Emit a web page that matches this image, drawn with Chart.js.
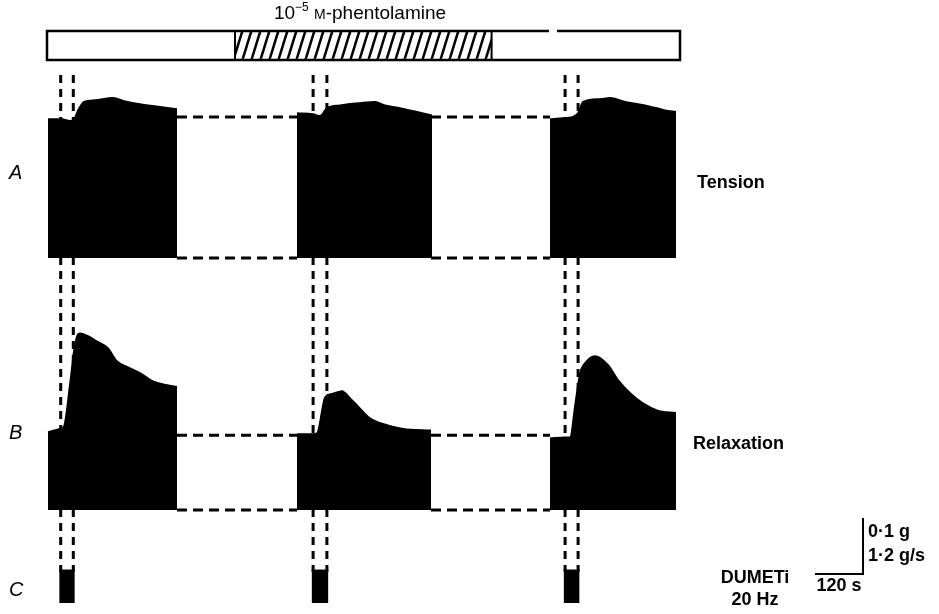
<!DOCTYPE html>
<html>
<head>
<meta charset="utf-8">
<script src="https://cdn.jsdelivr.net/npm/chart.js@4.4.1/dist/chart.umd.min.js"></script>
<style>
    html, body { margin: 0; padding: 0; background: #ffffff; }
    #wrap { width: 939px; height: 614px; }
</style>
</head>
<body>
<div id="wrap"><canvas id="traceChart" width="939" height="614"></canvas></div>
<script>
// ##################### Data (time in s from start of first record) #####################

const blockStart = [0, 622.5, 1255];
const blockEnd = [322.5, 957.5, 1570];

// DUMETi 20 Hz stimulation periods
const stimOn = [28, 659, 1289];
const stimOff = [67, 701, 1329];

// 10^-5 M phentolamine application
const drugOn = 467.5;
const drugOff = 1109;
const barStart = -2.5;
const barEnd = 1580;
const barGap = [1252.5, 1272.5];

// A - Tension, upper envelope (g)
const tensionT1 = [0, 35, 55, 65, 75, 90, 117.5, 162.5, 192.5, 230, 280, 322.5];
const tensionV1 = [0.248, 0.248, 0.245, 0.248, 0.264, 0.279, 0.282, 0.286, 0.280, 0.275, 0.270, 0.266];
const tensionT2 = [622.5, 662.5, 680, 697.5, 730, 780, 817.5, 842.5, 880, 917.5, 960];
const tensionV2 = [0.259, 0.257, 0.254, 0.268, 0.273, 0.277, 0.279, 0.273, 0.268, 0.262, 0.255];
const tensionT3 = [1255, 1287.5, 1310, 1325, 1337.5, 1380, 1405, 1442.5, 1492.5, 1542.5, 1570];
const tensionV3 = [0.248, 0.250, 0.252, 0.259, 0.279, 0.284, 0.286, 0.279, 0.273, 0.264, 0.261];

// B - Relaxation rate, upper envelope (g/s)
const relaxT1 = [0, 35, 40, 55, 65, 72.5, 80, 100, 117.5, 150, 172.5, 200, 230, 262.5, 297.5, 322.5];
const relaxV1 = [1.67, 1.76, 1.80, 2.72, 3.43, 3.73, 3.79, 3.73, 3.64, 3.47, 3.19, 3.06, 2.94, 2.76, 2.68, 2.64];
const relaxT2 = [622.5, 662.5, 672.5, 692.5, 710, 735, 755, 772.5, 805, 847.5, 887.5, 957.5];
const relaxV2 = [1.63, 1.63, 1.65, 2.42, 2.49, 2.55, 2.40, 2.25, 1.97, 1.82, 1.74, 1.71];
const relaxT3 = [1255, 1292.5, 1305, 1317.5, 1330, 1342.5, 1367.5, 1400, 1425, 1455, 1487.5, 1522.5, 1570];
const relaxV3 = [1.54, 1.56, 1.56, 2.25, 2.94, 3.15, 3.30, 3.11, 2.79, 2.51, 2.29, 2.14, 2.08];

// dashed reference levels (control baseline and zero)
const tensionRef = [0.252, 0];
const relaxRef = [1.60, 0];

// calibration bars
const calTime = 120;   // s
const calTension = 0.1; // g
const calRelax = 1.2;  // g/s

// ##################### Layout #####################

const W = 939, H = 614;
const X0_PX = 48;          // pixel of t = 0
const PX_PER_S = 0.4;

// each trace gets its own hidden axis: pixel of zero + pixels per unit
function axisRange(zeroPx, pxPerUnit) {
    return { min: -(H - zeroPx) / pxPerUnit, max: zeroPx / pxPerUnit };
}

const rangeA = axisRange(258, 560);
const rangeB = axisRange(510, 560 * calTension / calRelax);
const rangeC = axisRange(603, 33);
const rangeBar = axisRange(60, 29);

function pts(t, v) {
    return t.map((x, i) => ({ x: x, y: v[i] }));
}

// hatch pattern for the drug bar
function hatchPattern() {
    const pc = document.createElement("canvas");
    pc.width = 9;
    pc.height = 29;
    const p = pc.getContext("2d");
    p.strokeStyle = "#000";
    p.lineWidth = 2.5;
    [-9, 0, 9].forEach((o) => {
        p.beginPath();
        p.moveTo(o, 29);
        p.lineTo(o + 9, 0);
        p.stroke();
    });
    return p.createPattern(pc, "repeat");
}

const datasets = [];

function blockSet(data, axis) {
    return {
        data: data,
        yAxisID: axis,
        borderColor: "#000",
        borderWidth: 1.5,
        backgroundColor: "#000",
        fill: { value: 0 },
        cubicInterpolationMode: "monotone",
        pointRadius: 0,
        order: 0,
    };
}

[[tensionT1, tensionV1], [tensionT2, tensionV2], [tensionT3, tensionV3]].forEach((b) => {
    datasets.push(blockSet(pts(b[0], b[1]), "yA"));
});
[[relaxT1, relaxV1], [relaxT2, relaxV2], [relaxT3, relaxV3]].forEach((b) => {
    datasets.push(blockSet(pts(b[0], b[1]), "yB"));
});

// stimulation pulses (C)
stimOn.forEach((on, i) => {
    datasets.push({
        data: [{ x: on, y: 1 }, { x: stimOff[i], y: 1 }],
        yAxisID: "yC",
        borderColor: "#000",
        borderWidth: 1,
        backgroundColor: "#000",
        fill: { value: 0 },
        pointRadius: 0,
        order: 0,
    });
});

// dashed reference lines between records
function refLine(level, axis) {
    const d = [];
    for (let i = 0; i < blockStart.length - 1; i++) {
        d.push({ x: blockEnd[i], y: level });
        d.push({ x: blockStart[i + 1], y: level });
        d.push({ x: blockStart[i + 1], y: null });
    }
    return {
        data: d,
        yAxisID: axis,
        borderColor: "#000",
        borderWidth: 3,
        borderDash: [10, 6],
        fill: false,
        pointRadius: 0,
        spanGaps: false,
        order: 3,
    };
}
tensionRef.forEach((r) => datasets.push(refLine(r, "yA")));
relaxRef.forEach((r) => datasets.push(refLine(r, "yB")));

// drug bar: outline (with the small break in the top edge) + hatched part
datasets.push({
    data: [
        { x: barGap[0], y: 1 }, { x: barStart, y: 1 }, { x: barStart, y: 0 },
        { x: barEnd, y: 0 }, { x: barEnd, y: 1 }, { x: barGap[1], y: 1 },
    ],
    yAxisID: "yBar",
    borderColor: "#000",
    borderWidth: 2.5,
    fill: false,
    pointRadius: 0,
    order: 1,
});
datasets.push({
    data: [{ x: drugOn, y: 1 }, { x: drugOff, y: 1 }],
    yAxisID: "yBar",
    borderColor: "rgba(0,0,0,0)",
    borderWidth: 0,
    backgroundColor: hatchPattern(),
    fill: { value: 0 },
    pointRadius: 0,
    order: 2,
});
datasets.push({
    data: [{ x: drugOn, y: 0 }, { x: drugOn, y: 1 }, { x: null, y: null }, { x: drugOff, y: 1 }, { x: drugOff, y: 0 }],
    yAxisID: "yBar",
    borderColor: "#000",
    borderWidth: 2,
    fill: false,
    pointRadius: 0,
    spanGaps: false,
    order: 1,
});

// ##################### Plugins #####################

// vertical dotted markers at stimulus on / off, drawn under the records
const stimMarkers = {
    id: "stimMarkers",
    beforeDatasetsDraw(chart) {
        const c = chart.ctx;
        const x = chart.scales.x;
        c.save();
        c.strokeStyle = "#000";
        c.lineWidth = 3;
        c.setLineDash([8, 6]);
        stimOn.forEach((on, i) => {
            [x.getPixelForValue(on) + 1.5, x.getPixelForValue(stimOff[i]) - 1.5].forEach((px) => {
                c.beginPath();
                c.moveTo(px, 75);
                c.lineTo(px, 572);
                c.stroke();
            });
        });
        c.restore();
    },
};

const FONT = '"Liberation Sans", Arial, sans-serif';

const labels = {
    id: "labels",
    afterDraw(chart) {
        const c = chart.ctx;
        c.save();
        c.fillStyle = "#000";
        c.textBaseline = "alphabetic";

        // title with superscript and small-cap M
        const parts = [
            { s: "10", f: "19px " + FONT, dy: 0 },
            { s: "\u22125", f: "12px " + FONT, dy: -8 },
            { s: " ", f: "19px " + FONT, dy: 0 },
            { s: "M", f: "14px " + FONT, dy: 0 },
            { s: "-phentolamine", f: "19px " + FONT, dy: 0 },
        ];
        let total = 0;
        parts.forEach((p) => { c.font = p.f; p.w = c.measureText(p.s).width; total += p.w; });
        let tx = 360 - total / 2;
        parts.forEach((p) => { c.font = p.f; c.fillText(p.s, tx, 19 + p.dy); tx += p.w; });

        // panel letters
        c.font = "italic 20px " + FONT;
        c.textBaseline = "middle";
        c.fillText("A", 9, 173);
        c.fillText("B", 9, 433);
        c.fillText("C", 9, 590);

        c.font = "bold 18px " + FONT;
        c.fillText("Tension", 697, 183);
        c.fillText("Relaxation", 693, 444);
        c.textAlign = "center";
        c.fillText("DUMETi", 755, 578);
        c.fillText("20 Hz", 755, 600);
        c.textAlign = "left";
        c.fillText("0\u00b71 g", 868, 532);
        c.fillText("1\u00b72 g/s", 868, 556);
        c.textAlign = "center";
        c.fillText("120 s", 839, 586);

        // calibration bars, lengths from the scales
        const x = chart.scales.x, yA = chart.scales.yA;
        const hx = x.getPixelForValue(calTime) - x.getPixelForValue(0);
        const vy = yA.getPixelForValue(0) - yA.getPixelForValue(calTension);
        const cx = 863, cy = 574;
        c.lineWidth = 2;
        c.beginPath();
        c.moveTo(cx - hx, cy);
        c.lineTo(cx, cy);
        c.lineTo(cx, cy - vy);
        c.stroke();
        c.restore();
    },
};

// ##################### Chart #####################

const ctx = document.getElementById("traceChart").getContext("2d");
const traceChart = new Chart(ctx, {
    type: "line",
    data: { datasets: datasets },
    options: {
        responsive: false,
        animation: false,
        devicePixelRatio: 1,
        layout: { padding: 0 },
        elements: { line: { tension: 0 }, point: { radius: 0 } },
        plugins: {
            legend: { display: false },
            tooltip: { enabled: false },
        },
        scales: {
            x: {
                type: "linear",
                display: false,
                min: -X0_PX / PX_PER_S,
                max: (W - X0_PX) / PX_PER_S,
            },
            yA: { type: "linear", display: false, min: rangeA.min, max: rangeA.max },
            yB: { type: "linear", display: false, min: rangeB.min, max: rangeB.max },
            yC: { type: "linear", display: false, min: rangeC.min, max: rangeC.max },
            yBar: { type: "linear", display: false, min: rangeBar.min, max: rangeBar.max },
        },
    },
    plugins: [stimMarkers, labels],
});
</script>
</body>
</html>
